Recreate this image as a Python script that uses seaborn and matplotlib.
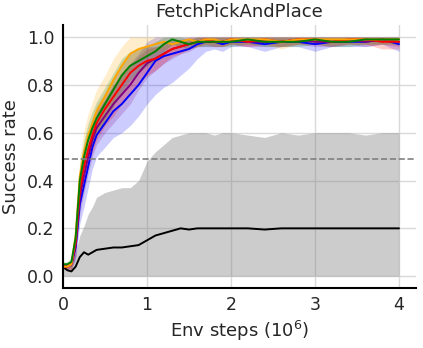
import numpy as np
import pandas as pd
import matplotlib
matplotlib.use("Agg")
import matplotlib.pyplot as plt
import seaborn as sns

steps = [0, 0.05, 0.1, 0.15, 0.2, 0.25, 0.3, 0.35, 0.4, 0.5, 0.6, 0.7, 0.8, 0.9, 1.0,
         1.1, 1.2, 1.3, 1.4, 1.5, 1.6, 1.7, 1.8, 1.9, 2.0, 2.2, 2.4, 2.6, 2.8, 3.0,
         3.2, 3.4, 3.6, 3.8, 4.0]

blue_mean = [0.04, 0.04, 0.05, 0.12, 0.30, 0.38, 0.46, 0.54, 0.59, 0.64, 0.69, 0.72, 0.76, 0.80, 0.85,
             0.90, 0.92, 0.93, 0.94, 0.95, 0.97, 0.98, 0.98, 0.97, 0.98, 0.98, 0.97, 0.98, 0.98, 0.97,
             0.98, 0.98, 0.98, 0.99, 0.97]
blue_std = [0.01, 0.01, 0.02, 0.05, 0.08, 0.09, 0.09, 0.09, 0.09, 0.10, 0.11, 0.12, 0.13, 0.13, 0.13,
            0.14, 0.13, 0.12, 0.10, 0.08, 0.06, 0.04, 0.03, 0.03, 0.02, 0.02, 0.03, 0.02, 0.02, 0.03,
            0.02, 0.02, 0.02, 0.02, 0.03]

purple_mean = [0.04, 0.04, 0.05, 0.13, 0.33, 0.42, 0.50, 0.57, 0.62, 0.67, 0.72, 0.76, 0.80, 0.85, 0.89,
               0.91, 0.93, 0.95, 0.96, 0.97, 0.98, 0.98, 0.98, 0.98, 0.99, 0.98, 0.98, 0.98, 0.99, 0.98,
               0.98, 0.99, 0.98, 0.99, 0.98]
purple_std = [0.01, 0.01, 0.02, 0.05, 0.07, 0.07, 0.07, 0.07, 0.07, 0.07, 0.08, 0.08, 0.08, 0.07, 0.06,
              0.05, 0.04, 0.04, 0.03, 0.03, 0.02, 0.02, 0.02, 0.02, 0.02, 0.02, 0.02, 0.02, 0.02, 0.02,
              0.02, 0.02, 0.02, 0.02, 0.02]

red_mean = [0.04, 0.04, 0.05, 0.14, 0.36, 0.46, 0.53, 0.59, 0.64, 0.70, 0.75, 0.80, 0.85, 0.88, 0.90,
            0.91, 0.93, 0.95, 0.96, 0.97, 0.98, 0.99, 0.98, 0.98, 0.99, 0.98, 0.99, 0.98, 0.99, 0.99,
            0.98, 0.99, 0.99, 0.98, 0.98]
red_std = [0.01, 0.01, 0.02, 0.05, 0.07, 0.07, 0.07, 0.07, 0.07, 0.07, 0.08, 0.08, 0.08, 0.07, 0.06,
           0.05, 0.04, 0.03, 0.03, 0.02, 0.02, 0.02, 0.02, 0.02, 0.02, 0.02, 0.02, 0.02, 0.02, 0.02,
           0.02, 0.02, 0.02, 0.03, 0.03]

green_mean = [0.05, 0.05, 0.06, 0.16, 0.40, 0.50, 0.57, 0.62, 0.66, 0.72, 0.78, 0.84, 0.88, 0.90, 0.92,
              0.94, 0.97, 0.99, 0.98, 0.97, 0.98, 0.98, 0.98, 0.98, 0.98, 0.99, 0.98, 0.98, 0.98, 0.99,
              0.98, 0.98, 0.99, 0.99, 0.99]
green_std = [0.01, 0.01, 0.02, 0.05, 0.07, 0.07, 0.07, 0.07, 0.07, 0.07, 0.07, 0.07, 0.06, 0.05, 0.04,
             0.04, 0.03, 0.02, 0.02, 0.02, 0.02, 0.02, 0.02, 0.02, 0.02, 0.02, 0.02, 0.02, 0.02, 0.02,
             0.02, 0.02, 0.02, 0.02, 0.02]

orange_mean = [0.04, 0.04, 0.05, 0.17, 0.42, 0.52, 0.59, 0.64, 0.69, 0.75, 0.82, 0.88, 0.93, 0.95, 0.96,
               0.97, 0.98, 0.97, 0.98, 0.99, 0.98, 0.99, 0.99, 0.98, 0.99, 0.99, 0.99, 0.98, 0.99, 0.99,
               0.99, 0.99, 0.99, 0.99, 0.99]
orange_std = [0.01, 0.01, 0.02, 0.05, 0.08, 0.09, 0.09, 0.09, 0.09, 0.09, 0.09, 0.08, 0.07, 0.05, 0.04,
              0.03, 0.03, 0.03, 0.02, 0.02, 0.02, 0.02, 0.02, 0.02, 0.02, 0.02, 0.02, 0.03, 0.02, 0.02,
              0.02, 0.02, 0.02, 0.02, 0.02]

baseline_mean = [0.04, 0.025, 0.02, 0.04, 0.08, 0.10, 0.09, 0.10, 0.11, 0.115, 0.12, 0.12, 0.125, 0.13, 0.15,
                 0.17, 0.18, 0.19, 0.20, 0.195, 0.20, 0.20, 0.20, 0.20, 0.20, 0.20, 0.195, 0.20, 0.20, 0.20,
                 0.20, 0.20, 0.20, 0.20, 0.20]
baseline_upper = [0.05, 0.05, 0.05, 0.10, 0.17, 0.21, 0.26, 0.29, 0.33, 0.35, 0.36, 0.37, 0.37, 0.40, 0.48,
                  0.52, 0.55, 0.58, 0.59, 0.60, 0.60, 0.60, 0.59, 0.60, 0.60, 0.59, 0.58, 0.60, 0.59, 0.60,
                  0.60, 0.60, 0.59, 0.60, 0.60]

threshold = 0.49

series = [
    ("blue", blue_mean, blue_std),
    ("purple", purple_mean, purple_std),
    ("red", red_mean, red_std),
    ("orange", orange_mean, orange_std),
    ("green", green_mean, green_std),
]

sns.set_theme(style="whitegrid", rc={"grid.color": "0.85", "axes.edgecolor": "black"})
plt.rcParams["font.family"] = ["DejaVu Sans"]

fig = plt.figure(figsize=(4.23, 3.48), dpi=100)
ax = fig.add_axes([0.149, 0.172, 0.834, 0.756])

x = np.array(steps)

# baseline with grey band
ax.fill_between(x, 0, baseline_upper, color="grey", alpha=0.4, linewidth=0)
sns.lineplot(x=x, y=baseline_mean, color="black", linewidth=1.4, ax=ax)

for color, mean, std in series:
    m = np.array(mean)
    s = np.array(std)
    ax.fill_between(x, np.clip(m - s, 0, 1), np.clip(m + s, 0, 1), color=color, alpha=0.2, linewidth=0)

for color, mean, std in series:
    sns.lineplot(x=x, y=mean, color=color, linewidth=1.4, ax=ax)

ax.axhline(threshold, color="grey", linestyle="--", linewidth=1.2)

ax.set_xlim(0, 4.2)
ax.set_ylim(-0.05, 1.05)
ax.set_xticks([0, 1, 2, 3, 4])
ax.set_yticks([0.0, 0.2, 0.4, 0.6, 0.8, 1.0])
ax.tick_params(labelsize=12.5, length=0, pad=6)
ax.set_xlabel("Env steps ($10^6$)", fontsize=13, labelpad=3)
ax.set_ylabel("Success rate", fontsize=13, labelpad=5)
ax.set_title("FetchPickAndPlace", fontsize=13)
sns.despine(ax=ax)
for sp in ["left", "bottom"]:
    ax.spines[sp].set_linewidth(1.5)

fig.savefig("out.png", dpi=100)
